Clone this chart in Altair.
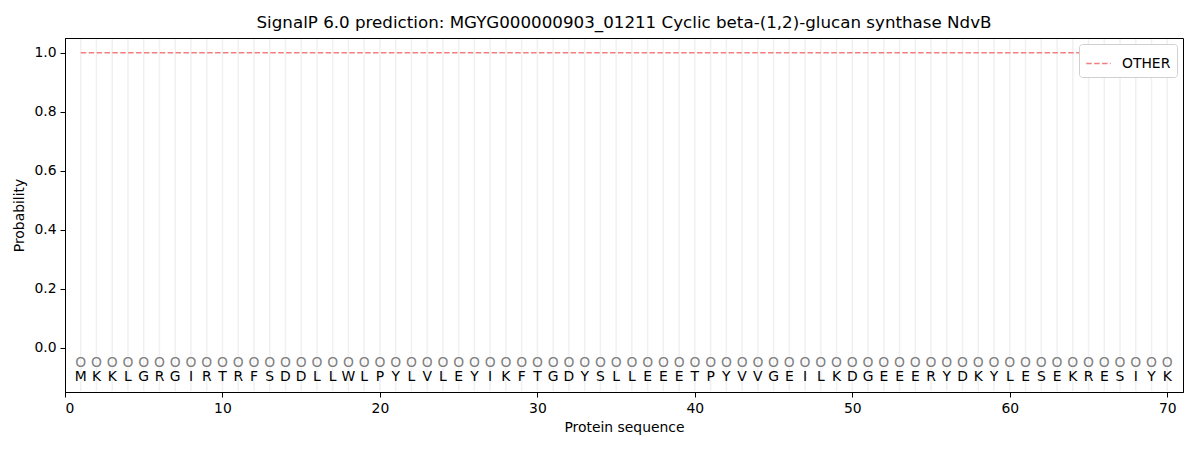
import altair as alt
import pandas as pd

residues = list("MKKLGRGIRTRFSDDLLWLPYLVLEYIKFTGDYSLLEEETPYVVGEILKDGEEERYDKYLESEKRESIYK")
positions = list(range(1, len(residues) + 1))
other_prob = [1.0] * len(residues)
x_ticks = [0, 10, 20, 30, 40, 50, 60, 70]
y_ticks = [0.0, 0.2, 0.4, 0.6, 0.8, 1.0]

df = pd.DataFrame({"pos": positions, "res": residues, "prob": other_prob, "series": ["OTHER"] * len(residues)})

FONT = "DejaVu Sans"
FS = 13.9

x_enc = alt.X("pos:Q", scale=alt.Scale(domain=[0, 71], nice=False, zero=False),
              axis=alt.Axis(values=x_ticks, title="Protein sequence", grid=False, format="d",
                            titlePadding=6))
y_scale = alt.Scale(domain=[-0.15, 1.05], nice=False, zero=False)

grid = alt.Chart(df).mark_rule(color="#f0f0f0", strokeWidth=1.5).encode(
    x=x_enc,
    y=alt.value(1),
    y2=alt.value(353),
)

line = alt.Chart(df).mark_line(strokeWidth=1.6).encode(
    x=x_enc,
    y=alt.Y("prob:Q", scale=y_scale,
            axis=alt.Axis(values=y_ticks, format=".1f", title="Probability", grid=False, titlePadding=7)),
    color=alt.Color("series:N", scale=alt.Scale(domain=["OTHER"], range=["#f08080"]),
                    legend=alt.Legend(title=None, orient="top-right", symbolType="stroke",
                                      symbolDash=[5.5, 2.4], symbolStrokeWidth=1.6,
                                      strokeColor="#d0d0d0", padding=6, cornerRadius=3,
                                      fillColor="white", labelFontSize=FS, labelFont=FONT,
                                      labelColor="black", symbolSize=600, offset=6, labelOffset=10)),
    strokeDash=alt.StrokeDash("series:N", scale=alt.Scale(domain=["OTHER"], range=[[5.5, 2.4]]), legend=None),
)

circles = alt.Chart(df).transform_calculate(yy="-0.05").mark_text(
    text="O", color="#808080", fontSize=FS, font=FONT, baseline="middle"
).encode(x=x_enc, y=alt.Y("yy:Q", scale=y_scale))

letters = alt.Chart(df).transform_calculate(yy="-0.1").mark_text(
    color="black", fontSize=FS, font=FONT, baseline="middle"
).encode(x=x_enc, y=alt.Y("yy:Q", scale=y_scale), text="res:N")

chart = alt.layer(grid, line, circles, letters).properties(
    width=1118, height=354,
    padding={"left": 4, "top": 7, "right": 5, "bottom": 5},
    title=alt.TitleParams("SignalP 6.0 prediction: MGYG000000903_01211 Cyclic beta-(1,2)-glucan synthase NdvB",
                          fontSize=16.7, font=FONT, fontWeight="normal", color="black", offset=6),
).configure_view(stroke="black", strokeWidth=1).configure_axis(
    domainColor="black", tickColor="black", labelColor="black", titleColor="black",
    labelFont=FONT, titleFont=FONT, labelFontSize=FS, titleFontSize=FS, titleFontWeight="normal",
    tickSize=5, labelPadding=4,
)

chart.save("out.html", embed_options={"renderer": "svg", "actions": False})
